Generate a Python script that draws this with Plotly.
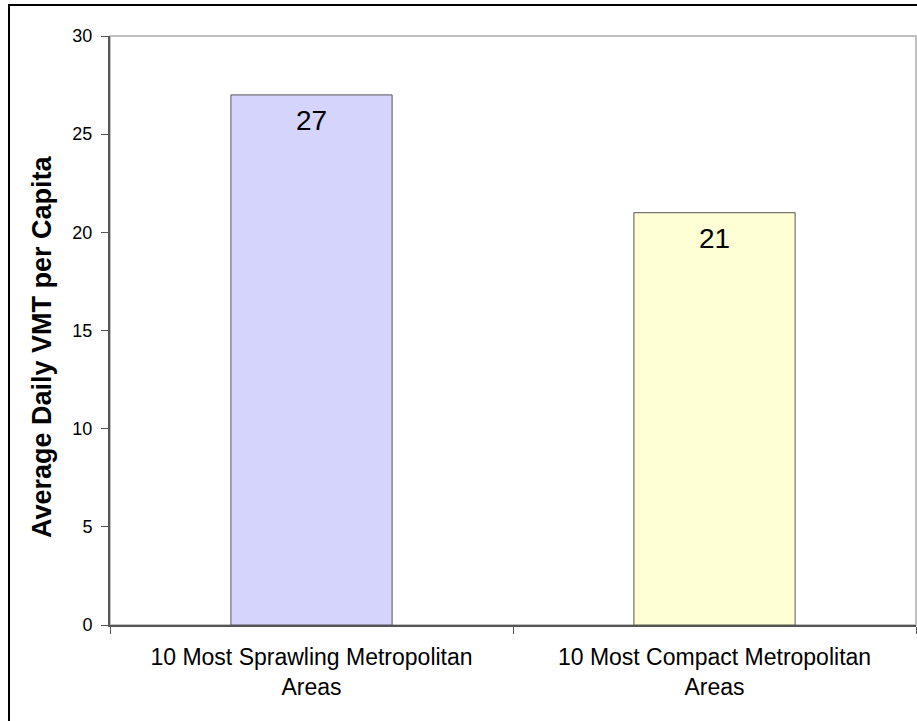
import plotly.graph_objects as go

categories = ["10 Most Sprawling Metropolitan<br>Areas", "10 Most Compact Metropolitan<br>Areas"]
values = [27, 21]
bar_colors = ["#d4d4fc", "#ffffd6"]
y_ticks = [0, 5, 10, 15, 20, 25, 30]
y_title = "Average Daily VMT per Capita"

W, H = 917, 721
ml, mr, mt, mb = 110, 1, 36, 96
pw, ph = W - ml - mr, H - mt - mb
bottom_px = mt + ph

fig = go.Figure()
fig.add_trace(go.Bar(
    x=categories, y=values,
    marker=dict(color=bar_colors, line=dict(color="#555555", width=1)),
    width=0.4, hoverinfo="skip",
))
for c, v in zip(categories, values):
    fig.add_annotation(x=c, y=v, text=str(v), showarrow=False, yanchor="top",
                       yshift=-8, font=dict(family="Liberation Sans, Arial", size=28, color="#000"))

# y-axis title placed as an annotation (sits slightly below the plot centre, as in the original)
fig.add_annotation(xref="paper", yref="paper", x=(42 - ml) / pw, y=(bottom_px - 347) / ph,
                   text="<b>" + y_title + "</b>", textangle=-90, showarrow=False,
                   xanchor="center", yanchor="middle",
                   font=dict(family="Liberation Sans, Arial", size=27, color="#000"))

fig.update_layout(
    width=W, height=H,
    margin=dict(l=ml, r=mr, t=mt, b=mb),
    paper_bgcolor="white", plot_bgcolor="white",
    showlegend=False,
    font=dict(family="Liberation Sans, Arial", color="#000"),
    shapes=[
        dict(type="rect", xref="paper", yref="paper", x0=0, x1=1, y0=0, y1=1,
             line=dict(color="#c0c0c0", width=2), layer="below"),
        dict(type="rect", xref="paper", yref="paper",
             x0=(9 - ml) / pw, x1=(W + 5 - ml) / pw,
             y0=(bottom_px - (H + 5)) / ph, y1=(bottom_px - 5) / ph,
             line=dict(color="#000", width=2), layer="below"),
    ],
)
fig.update_yaxes(
    range=[0, 30], tickvals=y_ticks, showgrid=False, zeroline=False,
    showline=True, linecolor="#555555", linewidth=2,
    ticks="outside", ticklen=7, tickcolor="#555555",
    tickfont=dict(size=18), ticklabelstandoff=5,
)
fig.update_xaxes(
    showgrid=False, showline=True, linecolor="#555555", linewidth=2,
    ticks="outside", tickson="boundaries", ticklen=7, tickcolor="#555555",
    tickfont=dict(size=23), ticklabelstandoff=10,
)
fig.write_html("out.html", config={"displayModeBar": False},
               post_script="document.body.style.margin='0';document.body.style.overflow='hidden';")
